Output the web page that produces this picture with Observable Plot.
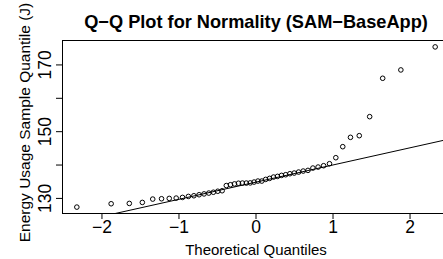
<!DOCTYPE html>
<html><head><meta charset="utf-8">
<script src="https://cdn.jsdelivr.net/npm/d3@7"></script>
<script src="https://cdn.jsdelivr.net/npm/@observablehq/plot@0.6"></script>
<style>html,body{margin:0;padding:0;background:#fff;overflow:hidden}</style>
</head><body><div id="chart"></div>
<script>
// Theoretical normal quantiles (n = 50)
const theoretical = [
  -2.3263, -1.8808, -1.6449, -1.4758, -1.3408, -1.2265, -1.1264, -1.0364, -0.9542, -0.8779,
  -0.8064, -0.7388, -0.6745, -0.6128, -0.5534, -0.4959, -0.4399, -0.3853, -0.3319, -0.2793,
  -0.2275, -0.1764, -0.1257, -0.0753, -0.0251, 0.0251, 0.0753, 0.1257, 0.1764, 0.2275,
  0.2793, 0.3319, 0.3853, 0.4399, 0.4959, 0.5534, 0.6128, 0.6745, 0.7388, 0.8064,
  0.8779, 0.9542, 1.0364, 1.1264, 1.2265, 1.3408, 1.4758, 1.6449, 1.8808, 2.3263
];
// Sorted sample energy usage (J)
const sample = [
  127.4, 128.4, 128.5, 128.8, 129.8, 129.9, 130.0, 130.1, 130.3, 130.6,
  130.8, 131.1, 131.35, 131.6, 131.85, 132.15, 132.3, 133.85, 134.1, 134.35,
  134.55, 134.6, 134.6, 134.65, 134.9, 135.2, 135.2, 135.7, 136.0, 136.4,
  136.6, 136.9, 137.1, 137.4, 137.6, 137.9, 138.2, 138.4, 139.1, 139.4,
  139.8, 140.4, 142.2, 145.5, 148.3, 148.8, 154.5, 166.0, 168.5, 175.4
];
const xTicks = [-2, -1, 0, 1, 2];
const yTicks = [130, 140, 150, 160, 170];
const yTickLabels = [130, 150, 170];
const titleText = "Q\u2212Q Plot for Normality (SAM\u2212BaseApp)";
const xTitle = "Theoretical Quantiles";
const yTitle = "Energy Usage Sample Quantile (J)";

const points = theoretical.map((t, i) => ({t, s: sample[i]}));
const pad = ([a, b]) => [a - (b - a) * 0.04, b + (b - a) * 0.04];
const xDomain = pad(d3.extent(theoretical));
const yDomain = pad(d3.extent(sample));
// qqline through the quartiles
const q1 = d3.quantile(sample, 0.25), q3 = d3.quantile(sample, 0.75);
const z1 = -0.6745, z3 = 0.6745;
const slope = (q3 - q1) / (z3 - z1);
const intercept = q1 - slope * z1;
const lineData = xDomain.map(x => ({t: x, s: intercept + slope * x}));

const fmt = d => d < 0 ? "\u2212" + Math.abs(d) : String(d);

const chart = Plot.plot({
  width: 443, height: 259,
  marginLeft: 62, marginTop: 40, marginBottom: 46, marginRight: -6,
  x: {domain: xDomain},
  y: {domain: yDomain},
  style: {fontFamily: "'Liberation Sans', Arial, Helvetica, sans-serif", background: "white", color: "black", overflow: "hidden"},
  marks: [
    Plot.frame({stroke: "black", strokeWidth: 1}),
    Plot.line(lineData, {x: "t", y: "s", stroke: "black", strokeWidth: 1, clip: true}),
    Plot.dot(points, {x: "t", y: "s", r: 2.3, stroke: "black", strokeWidth: 1, fill: "none"}),
    Plot.axisX({ticks: xTicks, tickSize: 6, tickPadding: 1, fontSize: 17.5, label: null, tickFormat: fmt}),
    Plot.axisY({ticks: yTicks, tickSize: 6, label: null, tickFormat: () => ""}),
    Plot.text(yTickLabels, {y: d => d, text: d => String(d), frameAnchor: "left", dx: -12, rotate: -90, textAnchor: "middle", lineAnchor: "bottom", fontSize: 17.5}),
    Plot.text([titleText], {frameAnchor: "top", dy: -12.5, lineAnchor: "bottom", fontWeight: "bold", fontSize: 18.2}),
    Plot.text([xTitle], {frameAnchor: "bottom", dy: 41, lineAnchor: "bottom", fontSize: 15}),
    Plot.text([yTitle], {frameAnchor: "left", dx: -33, dy: -4.5, rotate: -90, textAnchor: "middle", lineAnchor: "bottom", fontSize: 15.5})
  ]
});
document.getElementById("chart").appendChild(chart);
</script>
</body></html>
